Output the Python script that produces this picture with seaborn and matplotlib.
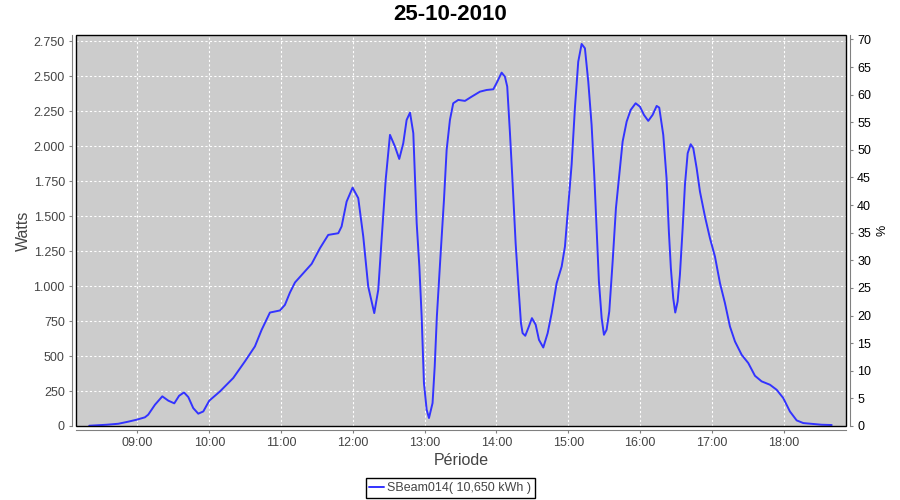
import pandas as pd
import matplotlib
matplotlib.use("Agg")
import matplotlib.pyplot as plt
import matplotlib.dates as mdates
from matplotlib.patches import Rectangle
import seaborn as sns

day = "2010-10-25"
times = [
    "08:19:44", "08:34:16", "08:44:00", "08:52:19", "08:59:20", "09:06:14", "09:09:00", "09:14:38",
    "09:20:46", "09:25:48", "09:30:47", "09:34:48", "09:38:53", "09:42:29", "09:46:37", "09:50:49",
    "09:55:01", "10:00:00", "10:08:56", "10:20:02", "10:29:49", "10:38:10", "10:43:48", "10:50:42",
    "10:59:06", "11:03:14", "11:07:26", "11:11:38", "11:18:36", "11:25:34", "11:32:31", "11:39:25",
    "11:47:49", "11:50:35", "11:54:47", "11:59:46", "12:04:30", "12:08:42", "12:12:50", "12:17:53",
    "12:21:14", "12:24:00", "12:27:25", "12:31:01", "12:35:13", "12:38:46", "12:42:07", "12:44:56",
    "12:47:46", "12:50:31", "12:53:20", "12:55:34", "12:57:29", "12:59:24", "13:01:41", "13:03:36",
    "13:06:36", "13:08:24", "13:10:12", "13:13:12", "13:16:08", "13:18:22", "13:21:07", "13:23:53",
    "13:28:05", "13:33:40", "13:39:14", "13:46:12", "13:51:47", "13:57:22", "14:00:40", "14:04:19",
    "14:07:05", "14:09:00", "14:11:17", "14:13:30", "14:16:01", "14:18:11", "14:20:28", "14:21:50",
    "14:24:04", "14:26:35", "14:29:38", "14:32:46", "14:35:31", "14:39:07", "14:42:47", "14:46:08",
    "14:50:17", "14:54:29", "14:57:14", "15:00:00", "15:02:49", "15:05:35", "15:08:20", "15:11:10",
    "15:13:55", "15:16:44", "15:19:30", "15:21:43", "15:23:42", "15:25:37", "15:27:54", "15:29:49",
    "15:32:02", "15:34:16", "15:37:05", "15:39:50", "15:42:36", "15:45:25", "15:48:47", "15:52:08",
    "15:56:17", "15:59:53", "16:03:14", "16:06:50", "16:10:30", "16:13:52", "16:16:01", "16:19:23",
    "16:22:08", "16:24:04", "16:25:44", "16:27:43", "16:29:24", "16:31:23", "16:33:18", "16:35:35",
    "16:37:30", "16:39:47", "16:42:18", "16:44:28", "16:47:17", "16:50:02", "16:54:14", "16:58:23",
    "17:02:35", "17:06:47", "17:10:55", "17:15:07", "17:19:19", "17:24:54", "17:30:25", "17:36:00",
    "17:41:35", "17:48:32", "17:54:07", "17:59:38", "18:05:13", "18:10:52", "18:16:23", "18:24:47",
    "18:31:44", "18:40:08",
]
watts = [
    2, 9, 16, 31, 45, 62, 81, 152,
    212, 181, 162, 216, 240, 207, 128, 88,
    104, 181, 247, 343, 462, 569, 688, 811,
    826, 866, 954, 1026, 1093, 1159, 1271, 1366,
    1378, 1426, 1604, 1704, 1629, 1354, 997, 807,
    974, 1331, 1759, 2081, 1997, 1909, 2021, 2188,
    2240, 2093, 1450, 1140, 783, 307, 116, 57,
    164, 426, 783, 1211, 1616, 1974, 2188, 2307,
    2331, 2324, 2354, 2390, 2402, 2407, 2461, 2526,
    2497, 2426, 2093, 1736, 1307, 1021, 736, 664,
    645, 700, 771, 724, 616, 561, 664, 807,
    1021, 1140, 1283, 1575, 1870, 2277, 2604, 2731,
    2700, 2461, 2152, 1795, 1414, 1033, 771, 652,
    688, 819, 1176, 1557, 1795, 2033, 2176, 2259,
    2307, 2283, 2224, 2181, 2224, 2288, 2276, 2081,
    1771, 1390, 1129, 914, 811, 890, 1081, 1414,
    1724, 1950, 2014, 1986, 1843, 1676, 1497, 1343,
    1211, 1021, 879, 711, 604, 509, 450, 359,
    319, 295, 259, 200, 104, 40, 21, 14,
    9, 7,
]
series_name = "SBeam014( 10,650 kWh )"
left_ticks = list(range(0, 2751, 250))
right_ticks = list(range(0, 71, 5))
hour_ticks = [f"{h:02d}:00" for h in range(9, 19)]

df = pd.DataFrame({"time": pd.to_datetime([day + " " + t for t in times]), "watts": watts})

sns.set_style("ticks")
plt.rcParams["font.family"] = ["Liberation Sans", "DejaVu Sans"]

fig = plt.figure(figsize=(9, 5), dpi=100)
fig.subplots_adjust(left=0.0844, right=0.94, top=0.93, bottom=0.148)
ax = fig.add_subplot(111)
ax.set_facecolor("#cccccc")

sns.lineplot(data=df, x="time", y="watts", ax=ax, color="#3333ff", lw=1.4, label=series_name, legend=False)

ax.set_xlim(pd.Timestamp(day + " 08:08:37"), pd.Timestamp(day + " 18:52:05"))
ax.set_ylim(0, 2795)
ax.set_xticks(pd.to_datetime([day + " " + h for h in hour_ticks]))
ax.xaxis.set_major_formatter(mdates.DateFormatter("%H:%M"))
ax.set_yticks(left_ticks)
ax.set_yticklabels([f"{v:,}".replace(",", ".") for v in left_ticks])

ax.grid(True, color="white", ls=(0, (2, 2)), lw=0.8)
ax.set_axisbelow(True)

ax2 = ax.twinx()
ax2.set_ylim(0, 70.8)
ax2.set_yticks(right_ticks)
ax2.grid(False)

for a in (ax, ax2):
    for s in a.spines.values():
        s.set_visible(False)
    a.tick_params(length=2.5, width=0.8, color="#808080", labelcolor="#444444",
                  labelsize=9, pad=2.5)
for name in ("left", "bottom"):
    ax.spines[name].set_visible(True)
    ax.spines[name].set_position(("outward", 3))
    ax.spines[name].set_color("#808080")
ax2.spines["right"].set_visible(True)
ax2.spines["right"].set_position(("outward", 3))
ax2.spines["right"].set_color("#808080")
ax2.tick_params(labelcolor="#000000")

ax.add_patch(Rectangle((0, 0), 1, 1, transform=ax.transAxes, fill=False,
                       ec="black", lw=1.0, clip_on=False, zorder=5))

ax.set_xlabel("Période", fontsize=11.5, color="#444444")
ax.set_ylabel("Watts", fontsize=11.5, color="#444444")
ax.xaxis.set_label_coords(0.5, -0.070)
ax.yaxis.set_label_coords(-0.058, 0.5)
ax2.set_ylabel("%", fontsize=9, color="#000000")
ax2.yaxis.set_label_coords(1.040, 0.5)

fig.text(0.5, 1 - 14 / 500, "25-10-2010", ha="center", va="center",
         fontsize=16, fontweight="bold", color="black")

handles, labels = ax.get_legend_handles_labels()
leg = fig.legend(handles, labels, loc="center", bbox_to_anchor=(0.5, 1 - 488 / 500),
                 frameon=True, fancybox=False, edgecolor="black", framealpha=1,
                 fontsize=9, handlelength=1.2, handletextpad=0.2, borderpad=0.3,
                 borderaxespad=0)
leg.get_frame().set_linewidth(1.0)
for t in leg.get_texts():
    t.set_color("#444444")

fig.savefig("out.png", dpi=100)
